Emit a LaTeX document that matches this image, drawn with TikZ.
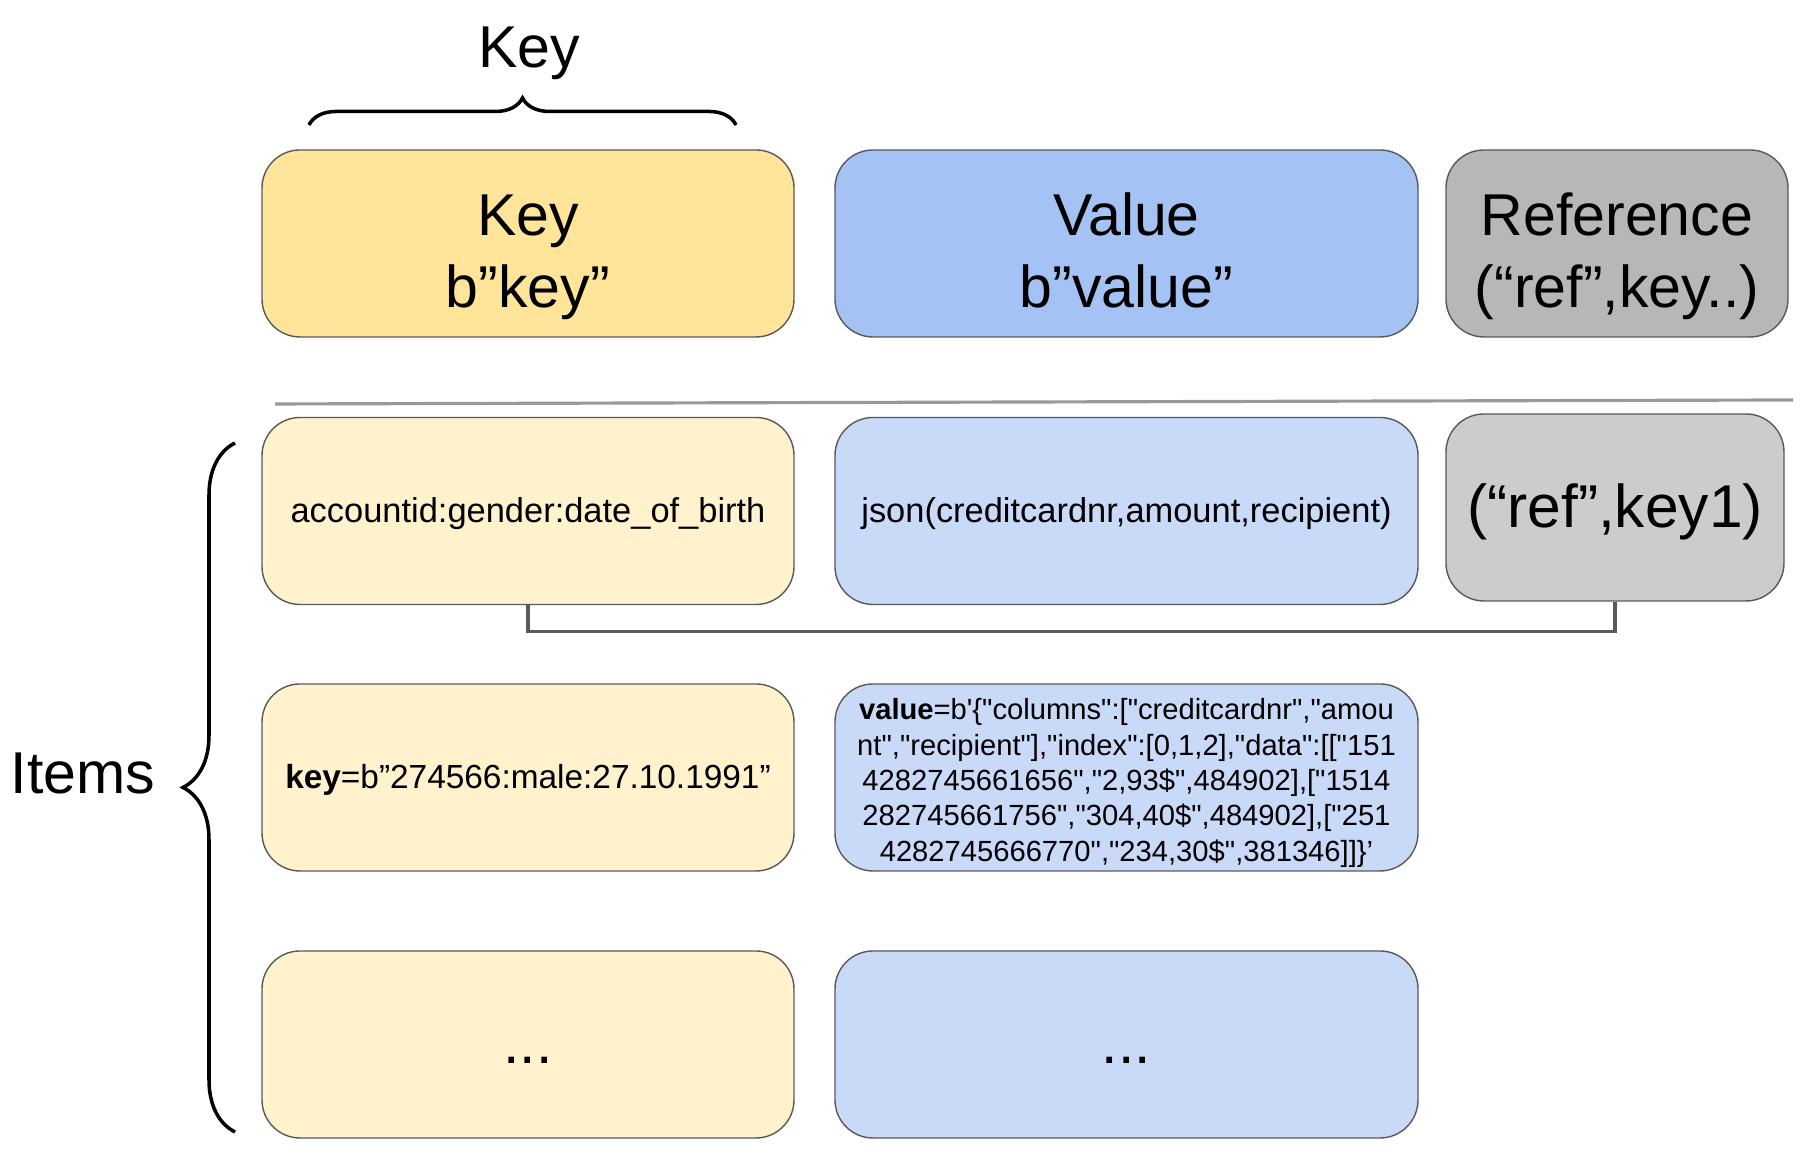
\documentclass[tikz,border=0pt]{standalone}
\usepackage{fontspec}
\setmainfont{Liberation Sans}[Ligatures=TeXOff]
\usetikzlibrary{decorations.pathreplacing}

\definecolor{keyhead}{HTML}{FFE599}
\definecolor{keyrow}{HTML}{FFF2CC}
\definecolor{valhead}{HTML}{A4C2F4}
\definecolor{valrow}{HTML}{C9DAF8}
\definecolor{refhead}{HTML}{B7B7B7}
\definecolor{refrow}{HTML}{CCCCCC}
\definecolor{edge}{HTML}{595959}

\newcommand{\bigfont}{\fontsize{16.8}{20.3}\selectfont}
\newcommand{\midfont}{\fontsize{9.8}{11.9}\selectfont}
\newcommand{\smallfont}{\fontsize{8.3}{10.05}\selectfont}
\newcommand{\linestrut}{\rule[-0.22em]{0pt}{1.09em}}
\newcommand{\topstrut}{\rule{0pt}{1.17em}}

\begin{document}
\begin{tikzpicture}[
  cell/.style={draw=edge,line width=0.4pt,rounded corners=0.38cm,inner sep=0pt,
    minimum height=1.87cm,align=center,
    execute at begin node=\linestrut,execute at end node=\linestrut},
  keycell/.style={cell,minimum width=5.32cm},
  valcell/.style={cell,minimum width=5.83cm},
  refcell/.style={cell,minimum width=3.42cm},
  link/.style={draw=edge,line width=0.9pt},
  brace/.style={decorate,line width=1pt,decoration={brace,amplitude=#1}}]
  \useasboundingbox (0,0) rectangle (18.12,11.56);
  % header row
  \node[keycell,fill=keyhead,font=\bigfont] (khead) at (5.28,9.125) {\topstrut Key\\b”key”\linestrut};
  \node[valcell,fill=valhead,font=\bigfont] (vhead) at (11.265,9.125) {\topstrut Value\\b”value”\linestrut};
  \node[refcell,fill=refhead,font=\bigfont] (rhead) at (16.17,9.125) {\topstrut Reference\\(“ref”,key..)\linestrut};
  \draw[line width=0.9pt,color=gray!80] (2.75,7.52) -- (17.93,7.56);
  % items
  \node[keycell,fill=keyrow,font=\midfont] (k1) at (5.28,6.45) {accountid:gender:date\_of\_birth};
  \node[valcell,fill=valrow,font=\midfont] (v1) at (11.265,6.45) {json(creditcardnr,amount,recipient)};
  \node[refcell,minimum width=3.38cm,fill=refrow,font=\fontsize{17.2}{20.8}\selectfont] (r1) at (16.15,6.485) {(“ref”,key1)};
  \node[keycell,fill=keyrow,font=\fontsize{9.5}{11.5}\selectfont] (k2) at (5.28,3.785) {\textbf{key}=b”274566:male:27.10.1991”};
  \node[valcell,fill=valrow,font=\smallfont] (v2) at (11.265,3.785)
    {\rule{0pt}{1.12em}\textbf{value}=b'\{"columns":["creditcardnr","amou\\
     nt","recipient"],"index":[0,1,2],"data":[["151\\
     4282745661656","2,93\$",484902],["1514\\
     282745661756","304,40\$",484902],["251\\
     4282745666770","234,30\$",381346]]\}’\linestrut};
  \node[keycell,fill=keyrow,font=\bigfont] (k3) at (5.28,1.115) {...};
  \node[valcell,fill=valrow,font=\bigfont] (v3) at (11.265,1.115) {...};
  \draw[link] (k1.south) -- ++(0,-0.26) -| (r1.south);
  % braces
  \draw[brace=0.27cm] (3.09,10.31) -- (7.36,10.31);
  \node[font=\bigfont] (keylabel) at (5.29,11.025) {Key};
  \draw[brace=0.52cm] (2.35,0.24) -- (2.35,7.13);
  \node[font=\bigfont] (items) at (0.83,3.82) {Items};
\end{tikzpicture}
\end{document}
